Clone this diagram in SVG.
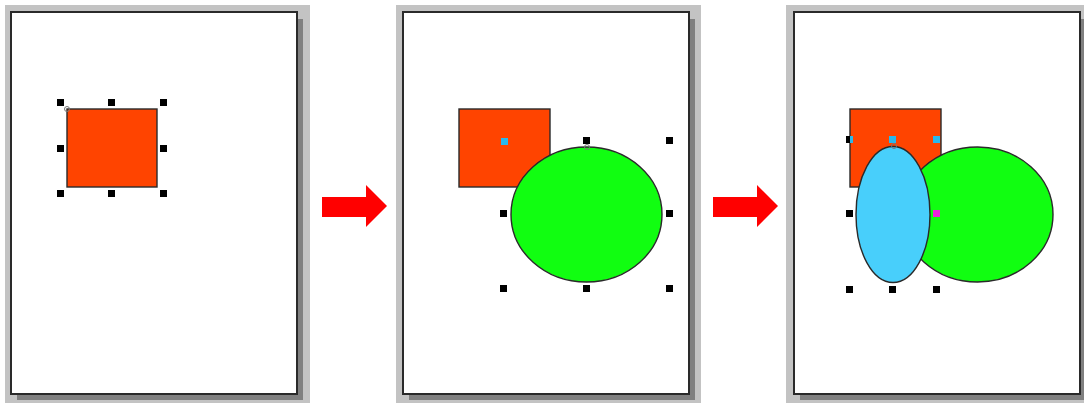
<svg xmlns="http://www.w3.org/2000/svg" width="1084" height="403" viewBox="0 0 1084 403">
<style>
.bg{fill:#c3c3c3}
.shadow{fill:#808080}
.page{fill:#fff;stroke:#2a2a2a;stroke-width:2}
.rect{fill:#ff4400;stroke:#2a2a2a;stroke-width:1.4}
.green{fill:#11fe11;stroke:#2a2a2a;stroke-width:1.4}
.blue{fill:#48cffb;stroke:#2a2a2a;stroke-width:1.4}
.h{fill:#000}
.hc{fill:#2ab8ec}
.hm{fill:#ee22dd}
.pivot{fill:none;stroke:#777;stroke-width:1}
.arrow{fill:#ff0000}
</style>
<rect width="1084" height="403" fill="#fff"/>
<g id="panel1">
<rect class="bg" x="5" y="5" width="305" height="398"/>
<rect class="shadow" x="17" y="19" width="286" height="381"/>
<rect class="page" x="11" y="12" width="286" height="382"/>
<rect class="rect" x="67" y="109" width="90" height="78"/>
<circle class="pivot" cx="67" cy="109" r="2.5"/>
<g>
<rect class="h" x="57" y="99" width="7" height="7"/><rect class="h" x="108" y="99" width="7" height="7"/><rect class="h" x="160" y="99" width="7" height="7"/>
<rect class="h" x="57" y="145" width="7" height="7"/><rect class="h" x="160" y="145" width="7" height="7"/>
<rect class="h" x="57" y="190" width="7" height="7"/><rect class="h" x="108" y="190" width="7" height="7"/><rect class="h" x="160" y="190" width="7" height="7"/>
</g>
</g>
<g id="panel2">
<rect class="bg" x="396" y="5" width="305" height="398"/>
<rect class="shadow" x="409" y="19" width="286" height="381"/>
<rect class="page" x="403" y="12" width="286" height="382"/>
<rect class="rect" x="459" y="109" width="91" height="78"/>
<rect class="hc" x="501" y="138" width="7" height="7"/>
<ellipse class="green" cx="586.5" cy="214.5" rx="75.5" ry="67.5"/>
<circle class="pivot" cx="587" cy="147" r="2.5"/>
<g>
<rect class="h" x="583" y="137" width="7" height="7"/><rect class="h" x="666" y="137" width="7" height="7"/>
<rect class="h" x="500" y="210" width="7" height="7"/><rect class="h" x="666" y="210" width="7" height="7"/>
<rect class="h" x="500" y="285" width="7" height="7"/><rect class="h" x="583" y="285" width="7" height="7"/><rect class="h" x="666" y="285" width="7" height="7"/>
</g>
</g>
<g id="panel3">
<rect class="bg" x="786" y="5" width="298" height="398"/>
<rect class="shadow" x="800" y="19" width="286" height="381"/>
<rect class="page" x="794" y="12" width="286" height="382"/>
<rect class="rect" x="850" y="109" width="91" height="78"/>
<ellipse class="green" cx="977.5" cy="214.5" rx="75.5" ry="67.5"/>
<ellipse class="blue" cx="893" cy="214.5" rx="37" ry="68"/>
<circle class="pivot" cx="894" cy="146" r="2.5"/>
<g>
<rect class="h" x="846" y="136" width="7" height="7"/><rect class="hc" x="850" y="136" width="3" height="7"/>
<rect class="hc" x="889" y="136" width="7" height="7"/><rect class="hc" x="933" y="136" width="7" height="7"/>
<rect class="h" x="846" y="210" width="7" height="7"/><rect class="hm" x="933" y="210" width="7" height="7"/>
<rect class="h" x="846" y="286" width="7" height="7"/><rect class="h" x="889" y="286" width="7" height="7"/><rect class="h" x="933" y="286" width="7" height="7"/>
</g>
</g>
<g id="connectors">
<polygon class="arrow" points="322,197 366,197 366,185 387,206 366,227 366,217 322,217"/>
<polygon class="arrow" points="713,197 757,197 757,185 778,206 757,227 757,217 713,217"/>
</g>
</svg>
